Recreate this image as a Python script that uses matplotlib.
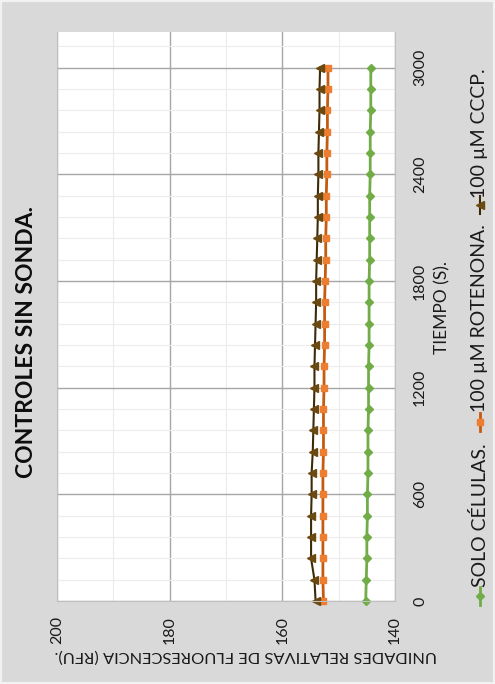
import matplotlib.pyplot as plt
from matplotlib.lines import Line2D
from matplotlib.patches import Rectangle

plt.rcParams['font.family'] = ['Lato', 'DejaVu Sans']

# tiempo (s) y unidades relativas de fluorescencia (RFU)
tiempo = [0, 120, 240, 360, 480, 600, 720, 840, 960, 1080, 1200, 1320, 1440,
          1560, 1680, 1800, 1920, 2040, 2160, 2280, 2400, 2520, 2640, 2760,
          2880, 3000]
solo_celulas = [145.2, 145.1, 145.0, 145.0, 144.9, 144.9, 144.8, 144.8, 144.8,
                144.7, 144.7, 144.7, 144.6, 144.6, 144.6, 144.6, 144.5, 144.5,
                144.5, 144.5, 144.4, 144.4, 144.4, 144.3, 144.3, 144.3]
rotenona = [152.7, 152.8, 152.8, 152.8, 152.8, 152.8, 152.8, 152.7, 152.7,
            152.7, 152.6, 152.6, 152.5, 152.5, 152.5, 152.4, 152.3, 152.3,
            152.2, 152.2, 152.1, 152.1, 152.0, 152.0, 151.9, 151.9]
cccp = [154.1, 154.3, 154.9, 154.9, 154.9, 154.8, 154.8, 154.6, 154.5, 154.4,
        154.3, 154.3, 154.2, 154.1, 154.0, 154.0, 153.9, 153.8, 153.7, 153.7,
        153.6, 153.6, 153.5, 153.4, 153.4, 153.3]

rfu_ticks = [200, 180, 160, 140]
t_ticks = [0, 600, 1200, 1800, 2400, 3000]

series = [
    ("SOLO CÉLULAS.", solo_celulas, '#70ad47', '#70ad47', 'D', 4.5, 2.0),
    ("100 µM ROTENONA.", rotenona, '#c55a11', '#ed7d31', 's', 5.0, 2.0),
    ("100 µM CCCP.", cccp, '#3d2a08', '#6b4a12', '<', 5.5, 1.5),
]
txt = '#1a1a1a'

fig = plt.figure(figsize=(4.95, 6.84), dpi=100, facecolor='#d9d9d9')
fig.add_artist(Rectangle((0, 0), 1, 1, transform=fig.transFigure,
                         facecolor='none', edgecolor='#f2f2f2', lw=3))

# chart is drawn rotated: RFU runs horizontally (reversed), time vertically
ax = fig.add_axes([0.1152, 0.1213, 0.6828, 0.8319])
ax.set_facecolor('white')
ax.set_xlim(200, 140)
ax.set_ylim(0, 3200)

ax.set_xticks(range(190, 140, -10), minor=True)
ax.set_yticks(range(120, 3200, 120), minor=True)
ax.grid(which='minor', color='#ececec', lw=0.8)
ax.grid(which='major', color='#a6a6a6', lw=1.0)
ax.set_axisbelow(True)

ax.set_xticks(rfu_ticks, [str(v) for v in rfu_ticks], rotation=90)
ax.yaxis.tick_right()
ax.set_yticks(t_ticks, [str(v) for v in t_ticks], rotation=90, va='center')
ax.tick_params(which='both', length=0, labelsize=11.5, labelcolor=txt)
ax.tick_params(axis='x', pad=11)
ax.tick_params(axis='y', pad=13)

for s in ax.spines.values():
    s.set_color('#bfbfbf')
ax.spines['top'].set_visible(False)

for name, vals, lc, mc, mk, ms, lw in series:
    ax.plot(vals, tiempo, color=lc, lw=lw, marker=mk, ms=ms,
            mfc=mc, mec=mc, clip_on=False)

# titles
fig.text(27 / 495, 1 - 342 / 684, "CONTROLES SIN SONDA.", rotation=90,
         ha='center', va='center', fontsize=16.5, fontweight='bold',
         color='#0d0d0d')
fig.text(442 / 495, 1 - 307 / 684, "TIEMPO (S).", rotation=90,
         ha='center', va='center', fontsize=12.5, color=txt)
fig.text(246 / 495, 1 - 655 / 684,
         "UNIDADES RELATIVAS DE FLUORESCENCIA (RFU).", rotation=180,
         ha='center', va='center', fontsize=11.8, color=txt)

# legend, rotated by hand
leg_pos = [(596, 587), (422, 412), (205, 198)]
lx = 480 / 495
for (name, vals, lc, mc, mk, ms, lw), (my, ty) in zip(series, leg_pos):
    y0 = 1 - (my + 9) / 684
    y1 = 1 - (my - 9) / 684
    ym = 1 - my / 684
    fig.add_artist(Line2D([lx, lx, lx], [y0, ym, y1], transform=fig.transFigure,
                          color=lc, lw=lw, marker=mk, ms=ms, mfc=mc, mec=mc,
                          markevery=[1]))
    fig.text(lx, 1 - ty / 684, name, rotation=90, ha='center', va='bottom',
             fontsize=14, color=txt)

fig.savefig('out.png', dpi=100, facecolor=fig.get_facecolor())
